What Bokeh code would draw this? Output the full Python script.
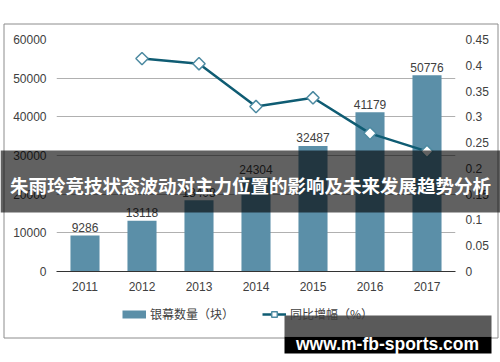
import math
from bokeh.plotting import figure
from bokeh.models import (Range1d, LinearAxis, FixedTicker, Legend, LegendItem,
                          ColumnDataSource, CustomJSTickFormatter)
from bokeh.core.properties import value
from bokeh.embed import file_html
from bokeh.resources import INLINE

# ---- data ----
years = ["2011", "2012", "2013", "2014", "2015", "2016", "2017"]
screens = [9286, 13118, 18408, 24304, 32487, 41179, 50776]
growth = [float("nan"), 0.413, 0.403, 0.320, 0.337, 0.268, 0.233]
left_ticks = [0, 10000, 20000, 30000, 40000, 50000, 60000]
right_ticks = [0, 0.05, 0.1, 0.15, 0.2, 0.25, 0.3, 0.35, 0.4, 0.45]
bar_series_name = "银幕数量（块）"
line_series_name = "同比增幅（%）"
title_text = "朱雨玲竞技状态波动对主力位置的影响及未来发展趋势分析"
watermark_text = "www.m-fb-sports.com"

BAR_COLOR = "#5b8fa8"
LINE_COLOR = "#0f5c73"
MARK_LINE = "#4d8aa1"
TXT = "#404040"
FONT = "Liberation Sans"
CJK = "Noto Sans CJK SC"

W, H = 500, 362

p = figure(width=W, height=H, x_range=years, y_range=Range1d(0, 60000),
           output_backend="svg", toolbar_location=None,
           min_border_left=56, min_border_right=45, min_border_top=39, min_border_bottom=91)
p.extra_y_ranges = {"right": Range1d(0, 0.45)}
p.outline_line_color = None
p.background_fill_color = "white"
p.border_fill_color = "white"
p.styles = {"position": "absolute", "top": "0px", "left": "0px"}

# left axis
ya = p.yaxis[0]
ya.ticker = FixedTicker(ticks=left_ticks)
ya.axis_line_color = None
ya.major_tick_line_color = None
ya.minor_tick_line_color = None
ya.major_tick_out = 0
ya.major_label_standoff = 10
ya.major_label_text_font = FONT
ya.major_label_text_font_size = "12px"
ya.major_label_text_color = TXT

# right axis
ra = LinearAxis(y_range_name="right", ticker=FixedTicker(ticks=right_ticks),
                formatter=CustomJSTickFormatter(code="return tick.toString()"))
ra.axis_line_color = None
ra.major_tick_line_color = None
ra.minor_tick_line_color = None
ra.major_tick_out = 0
ra.major_label_standoff = 10
ra.major_label_text_font = FONT
ra.major_label_text_font_size = "12px"
ra.major_label_text_color = TXT
p.add_layout(ra, "right")

# bottom axis
xa = p.xaxis[0]
xa.axis_line_color = "#333333"
xa.axis_line_width = 1
xa.major_tick_line_color = None
xa.major_tick_out = 0
xa.major_label_standoff = 10
xa.major_label_text_font = FONT
xa.major_label_text_font_size = "12px"
xa.major_label_text_color = TXT

p.xgrid.grid_line_color = None
p.ygrid.ticker = FixedTicker(ticks=left_ticks)
p.ygrid.grid_line_color = "#b0b0b0"
p.ygrid.grid_line_width = 1

src = ColumnDataSource(dict(x=years, top=screens, lab=[str(v) for v in screens], g=growth))

p.vbar(x="x", top="top", width=0.51, source=src, fill_color=BAR_COLOR, line_color=None)
p.text(x="x", y="top", text="lab", source=src, text_align="center", text_baseline="alphabetic",
       y_offset=-8, text_font=value(FONT), text_font_size="12px", text_color=TXT)

p.line(x="x", y="g", source=src, y_range_name="right", line_color=LINE_COLOR, line_width=2.5)
p.scatter(x="x", y="g", source=src, y_range_name="right", marker="square", angle=math.pi / 4,
          size=8.7, fill_color="white", line_color=MARK_LINE, line_width=1.5)

# ---- overlay layer (chart border, legend, title band, watermark), y measured from top ----
q = figure(width=W, height=H, x_range=Range1d(0, W), y_range=Range1d(H, 0),
           output_backend="svg", toolbar_location=None,
           x_axis_location=None, y_axis_location=None, min_border=0)
q.grid.visible = False
q.outline_line_color = None
q.background_fill_color = None
q.border_fill_color = None
q.styles = {"position": "absolute", "top": "0px", "left": "0px", "z-index": "5"}

q.quad(left=[3.5], right=[497.5], top=[23.5], bottom=[337.5],
       fill_alpha=0, line_color="#8c8c8c", line_width=1)

# legend proxies (placed off-canvas; only their legend swatches show)
off = dict(x=[-60, -50], y=[-60, -60])
lg_bar = q.line(x=off["x"], y=off["y"], line_color=BAR_COLOR, line_width=8)
lg_line = q.line(x=off["x"], y=off["y"], line_color=LINE_COLOR, line_width=2.5)
lg_mark = q.scatter(x=off["x"], y=off["y"], marker="square", angle=math.pi / 4, size=7,
                    fill_color="white", line_color=MARK_LINE, line_width=1.5)
legend = Legend(items=[LegendItem(label=bar_series_name, renderers=[lg_bar]),
                       LegendItem(label=line_series_name, renderers=[lg_line, lg_mark])],
                orientation="horizontal", location=(122, 40),
                glyph_width=24, glyph_height=14, label_standoff=4, spacing=28,
                padding=0, margin=0, border_line_color=None, background_fill_alpha=0,
                label_text_font=CJK, label_text_font_size="12px", label_text_color=TXT)
q.add_layout(legend)

q.quad(left=[0], right=[W], top=[150], bottom=[212],
       fill_color="black", fill_alpha=0.62, line_color=None)
q.text(x=[W / 2], y=[184], text=[title_text], text_align="center", text_baseline="middle",
       text_color="white", text_font=value(CJK), text_font_style="bold", text_font_size="18.5px")

q.quad(left=[284], right=[491], top=[315], bottom=[336], fill_color="#5a5a5a", line_color=None)
q.quad(left=[284], right=[491], top=[336], bottom=[353], fill_color="black", line_color=None)
q.text(x=[387], y=[343], text=[watermark_text], text_align="center", text_baseline="alphabetic",
       text_color="white", text_font=value(FONT), text_font_style="bold", text_font_size="17.5px")

open("out.html", "w").write(file_html([p, q], INLINE))
